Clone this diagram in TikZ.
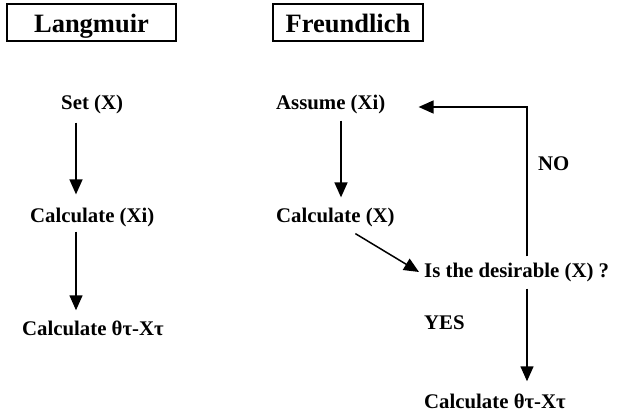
\documentclass[tikz,border=0pt]{standalone}
\usepackage{fontspec}
\setmainfont{Liberation Serif}
\usetikzlibrary{arrows.meta}
\begin{document}
\begin{tikzpicture}[x=1pt,y=-1pt,
  lbl/.style={inner sep=0pt,anchor=base west,font=\bfseries\fontsize{20.8}{24}\selectfont},
  titlebox/.style={draw,line width=1.3pt,inner sep=0pt,minimum height=37pt,
    text height=21pt,text depth=0pt,font=\bfseries\fontsize{26.5}{30}\selectfont},
  arr/.style={line width=1.5pt,-{Triangle[length=15pt,width=13pt]}}]
\useasboundingbox (0,0) rectangle (620,417);

% column headings
\node[titlebox,minimum width=169pt] (lang) at (91.5,22.5) {Langmuir};
\node[titlebox,minimum width=150pt] (freu) at (348,22.5) {Freundlich};

% Langmuir steps
\node[lbl] (set)   at (61,110)  {Set (X)};
\node[lbl] (calcA) at (30,222)  {Calculate (Xi)};
\node[lbl] (calcB) at (22,335)  {Calculate θτ-Xτ};

% Freundlich steps
\node[lbl] (assume) at (276,110) {Assume (Xi)};
\node[lbl] (calcX)  at (276,222) {Calculate (X)};
\node[lbl] (isq)    at (424,277) {Is the desirable (X) ?};
\node[lbl] (yes)    at (424,329) {YES};
\node[lbl] (no)     at (538,170) {NO};
\node[lbl] (calcR)  at (424,408) {Calculate θτ-Xτ};

\coordinate (colL) at (76,0);
\coordinate (colR) at (341,0);
\coordinate (loopx) at (527,0);

% Langmuir connectors
\draw[arr,shorten <=8pt,shorten >=13pt] (set.south -| colL) -- (calcA.north -| colL);
\draw[arr,shorten <=5pt,shorten >=10pt] (calcA.south -| colL) -- (calcB.north -| colL);

% Freundlich connectors
\draw[arr,shorten <=6pt,shorten >=10pt] (assume.south -| colR) -- (calcX.north -| colR);
\draw[arr] ([xshift=20pt,yshift=-7pt]calcX.south) -- ([xshift=-5pt]isq.west);
\draw[arr,shorten <=6pt,shorten >=33pt] (isq.north -| loopx) |- ([yshift=-2pt]assume.east);
\draw[arr,shorten <=7pt,shorten >=12pt] (isq.south -| loopx) -- (calcR.north -| loopx);
\end{tikzpicture}
\end{document}
